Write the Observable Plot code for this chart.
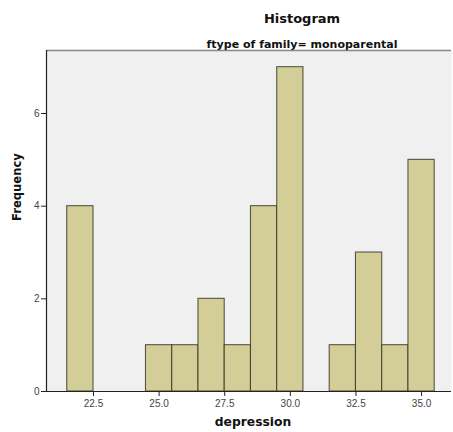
<!DOCTYPE html>
<html>
<head>
<meta charset="utf-8">
<script src="https://cdn.jsdelivr.net/npm/d3@7"></script>
<script src="https://cdn.jsdelivr.net/npm/@observablehq/plot@0.6"></script>
<style>
  html, body { margin: 0; padding: 0; background: #fff; }
  svg { font-family: "Liberation Sans", Arial, sans-serif; }
</style>
</head>
<body>
<div id="chart"></div>
<script>
const binLower = [21.5, 24.5, 25.5, 26.5, 27.5, 28.5, 29.5, 31.5, 32.5, 33.5, 34.5];
const binWidth = 1;
const counts = [4, 1, 1, 2, 1, 4, 7, 1, 3, 1, 5];
const xTicks = [22.5, 25.0, 27.5, 30.0, 32.5, 35.0];
const yTicks = [0, 2, 4, 6];
const title = "Histogram";
const subtitle = "ftype of family= monoparental";
const xLabel = "depression";
const yLabel = "Frequency";

const bins = binLower.map((b, i) => ({x1: b, x2: b + binWidth, count: counts[i]}));
const xDomain = [20.71, 36.14];
const yDomain = [0, 7.36];
const boldFont = "'DejaVu Sans', sans-serif";

const chart = Plot.plot({
  width: 453,
  height: 432,
  marginLeft: 46,
  marginRight: 2,
  marginTop: 50,
  marginBottom: 41,
  style: {fontFamily: "'Liberation Sans', Arial, sans-serif", background: "#fff"},
  x: {domain: xDomain, ticks: xTicks, tickFormat: d => d.toFixed(1), label: null},
  y: {domain: yDomain, ticks: yTicks, label: null},
  marks: [
    Plot.frame({fill: "#f0f0f0", stroke: null}),
    Plot.ruleY([yDomain[1]], {stroke: "#888", strokeWidth: 1.5}),
    Plot.rectY(bins, {x1: "x1", x2: "x2", y: "count", fill: "#d3ce97", stroke: "#333326", strokeOpacity: 0.8, strokeWidth: 1.1}),
    Plot.axisX({ticks: xTicks, tickFormat: d => d.toFixed(1), tickSize: 5, tickPadding: 3, fontSize: 10, color: "#444", stroke: "#222", label: null}),
    Plot.axisY({ticks: yTicks, tickSize: 5, tickPadding: 2, fontSize: 10, color: "#444", stroke: "#222", label: null}),
    Plot.ruleX([xDomain[0]], {stroke: "#222", strokeWidth: 1.2}),
    Plot.ruleY([0], {stroke: "#222", strokeWidth: 1.2}),
    Plot.text([title], {frameAnchor: "top", dx: 53, dy: -36.5, fontSize: 13, fontWeight: "bold", fontFamily: boldFont, fill: "#111", text: d => d}),
    Plot.text([subtitle], {frameAnchor: "top", dx: 53, dy: -10, fontSize: 11, fontWeight: "bold", fontFamily: boldFont, fill: "#111", text: d => d}),
    Plot.text([xLabel], {frameAnchor: "bottom", dx: 4, dy: 34, fontSize: 12.3, fontWeight: "bold", fontFamily: boldFont, fill: "#111", text: d => d}),
    Plot.text([yLabel], {frameAnchor: "left", dx: -29, rotate: -90, fontSize: 11.6, fontWeight: "bold", fontFamily: boldFont, fill: "#111", text: d => d})
  ]
});
document.getElementById("chart").append(chart);
</script>
</body>
</html>
